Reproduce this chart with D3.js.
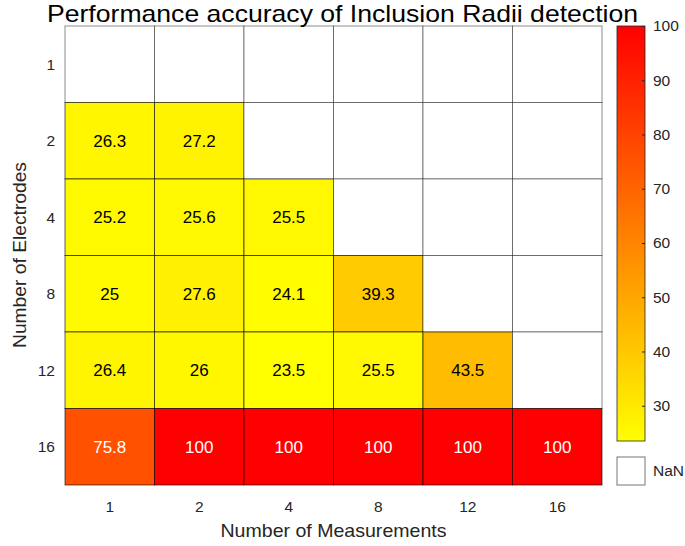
<!DOCTYPE html>
<html>
<head>
<meta charset="utf-8">
<script src="https://cdn.jsdelivr.net/npm/d3@7"></script>
<style>
  body { margin: 0; background: #fff; }
  svg { display: block; font-family: "Liberation Sans", Arial, sans-serif; }
</style>
</head>
<body>
<svg id="chart" width="685" height="546"></svg>
<script>
// heatmap data, rows = electrodes, cols = measurements (null = NaN)
var electrodes = ['1', '2', '4', '8', '12', '16'];
var measurements = ['1', '2', '4', '8', '12', '16'];
var accuracy = [
  [null, null, null, null, null, null],
  [26.3, 27.2, null, null, null, null],
  [25.2, 25.6, 25.5, null, null, null],
  [25, 27.6, 24.1, 39.3, null, null],
  [26.4, 26, 23.5, 25.5, 43.5, null],
  [75.8, 100, 100, 100, 100, 100]
];
var colorTicks = [30, 40, 50, 60, 70, 80, 90, 100];

var svg = d3.select('#chart');
var grid = {left: 65, top: 26, right: 602, bottom: 485};

var x = d3.scaleBand().domain(measurements).range([grid.left, grid.right]);
var y = d3.scaleBand().domain(electrodes).range([grid.top, grid.bottom]);

var all = d3.merge(accuracy).filter(function(v) { return v !== null; });
var vmin = d3.min(all), vmax = d3.max(all);
var color = d3.scaleLinear().domain([vmin, vmax]).range(['#ffff00', '#ff0000']);

var cells = [];
accuracy.forEach(function(row, i) {
  row.forEach(function(v, j) {
    cells.push({row: electrodes[i], col: measurements[j], value: v});
  });
});

var cell = svg.append('g').selectAll('g')
  .data(cells).enter().append('g');

cell.append('rect')
  .attr('x', function(d) { return x(d.col); })
  .attr('y', function(d) { return y(d.row); })
  .attr('width', x.bandwidth())
  .attr('height', y.bandwidth())
  .attr('fill', function(d) { return d.value === null ? '#fff' : color(d.value); })
  .attr('stroke', function(d) { return d.value === null ? 'rgba(0,0,0,0.45)' : 'rgba(0,0,0,0.6)'; })
  .attr('stroke-width', 1);

cell.filter(function(d) { return d.value !== null; })
  .append('text')
  .attr('x', function(d) { return x(d.col) + x.bandwidth() / 2; })
  .attr('y', function(d) { return y(d.row) + y.bandwidth() / 2; })
  .attr('dy', '0.35em')
  .attr('text-anchor', 'middle')
  .attr('font-size', 17)
  .attr('fill', function(d) { return d.value > 60 ? '#fff' : '#000'; })
  .text(function(d) { return d.value; });

// axes labels (no lines, like MATLAB heatmap)
svg.append('g').selectAll('text')
  .data(measurements).enter().append('text')
  .attr('x', function(d) { return x(d) + x.bandwidth() / 2; })
  .attr('y', 511.5)
  .attr('text-anchor', 'middle')
  .attr('font-size', 15.5)
  .attr('fill', '#262626')
  .text(function(d) { return d; });

svg.append('g').selectAll('text')
  .data(electrodes).enter().append('text')
  .attr('x', 55)
  .attr('y', function(d) { return y(d) + y.bandwidth() / 2; })
  .attr('dy', '0.35em')
  .attr('text-anchor', 'end')
  .attr('font-size', 15.5)
  .attr('fill', '#262626')
  .text(function(d) { return d; });

svg.append('text')
  .attr('x', (grid.left + grid.right) / 2)
  .attr('y', 537)
  .attr('text-anchor', 'middle')
  .attr('font-size', 18.5)
  .attr('textLength', 226)
  .attr('lengthAdjust', 'spacingAndGlyphs')
  .attr('fill', '#262626')
  .text('Number of Measurements');

svg.append('text')
  .attr('transform', 'translate(26,255) rotate(-90)')
  .attr('text-anchor', 'middle')
  .attr('font-size', 18.5)
  .attr('textLength', 186)
  .attr('lengthAdjust', 'spacingAndGlyphs')
  .attr('fill', '#262626')
  .text('Number of Electrodes');

svg.append('text')
  .attr('x', 342.5)
  .attr('y', 21.5)
  .attr('text-anchor', 'middle')
  .attr('font-size', 24)
  .attr('textLength', 591)
  .attr('lengthAdjust', 'spacingAndGlyphs')
  .attr('fill', '#000')
  .text('Performance accuracy of Inclusion Radii detection');

// colorbar
var cb = {x: 617, w: 28, top: 26, bottom: 441};
var cy = d3.scaleLinear().domain([vmin, vmax]).range([cb.bottom, cb.top]);

var grad = svg.append('defs').append('linearGradient')
  .attr('id', 'cbgrad').attr('x1', 0).attr('y1', 1).attr('x2', 0).attr('y2', 0);
grad.append('stop').attr('offset', 0).attr('stop-color', color(vmin));
grad.append('stop').attr('offset', 1).attr('stop-color', color(vmax));

svg.append('rect')
  .attr('x', cb.x).attr('y', cb.top)
  .attr('width', cb.w).attr('height', cb.bottom - cb.top)
  .attr('fill', 'url(#cbgrad)')
  .attr('stroke', '#262626').attr('stroke-width', 0.8);

var cbAxis = d3.axisRight(cy).tickValues(colorTicks).tickSize(0).tickPadding(8);
var cbg = svg.append('g')
  .attr('transform', 'translate(' + (cb.x + cb.w) + ',0)')
  .call(cbAxis);
cbg.select('.domain').remove();
cbg.selectAll('text').attr('font-size', 15.5).attr('fill', '#262626')
  .attr('font-family', '"Liberation Sans", Arial, sans-serif');
cbg.selectAll('.tick').append('line')
  .attr('x1', -3).attr('x2', 0).attr('stroke', '#262626');

// NaN swatch
svg.append('rect')
  .attr('x', cb.x).attr('y', 457)
  .attr('width', cb.w).attr('height', 28)
  .attr('fill', '#fff')
  .attr('stroke', '#777').attr('stroke-width', 1);
svg.append('text')
  .attr('x', cb.x + cb.w + 8).attr('y', 471)
  .attr('dy', '0.35em')
  .attr('font-size', 15.5)
  .attr('fill', '#262626')
  .text('NaN');
</script>
</body>
</html>
